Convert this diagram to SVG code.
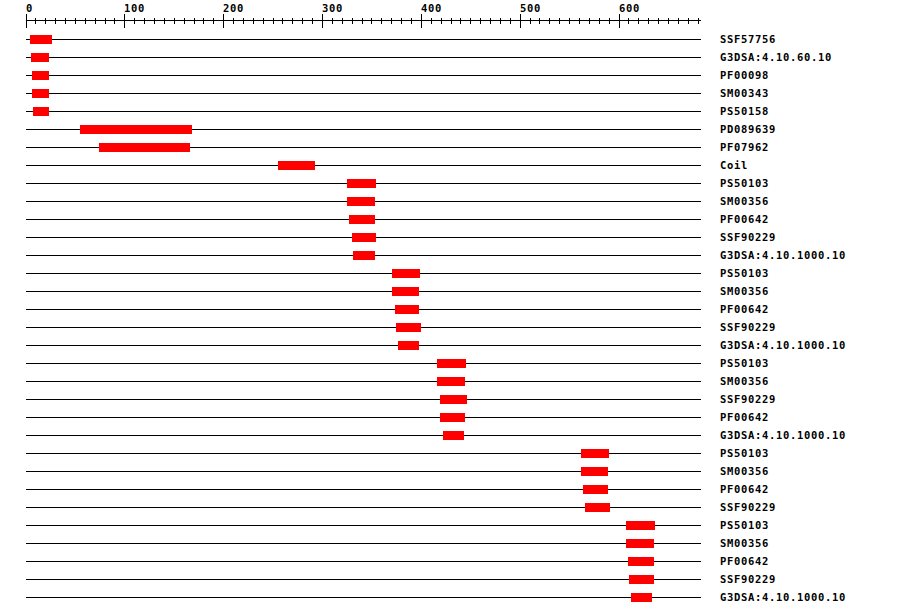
<svg xmlns="http://www.w3.org/2000/svg" width="900" height="616" viewBox="0 0 900 616">
<style>
text{font-family:"DejaVu Sans Mono","Liberation Mono",monospace;font-weight:bold;font-size:10.5px;letter-spacing:0.68px;fill:#000}
.tk{stroke:#000;stroke-width:1;fill:none;shape-rendering:crispEdges}
.ln{stroke:#000;stroke-width:1;shape-rendering:crispEdges}
.bar{fill:#FF0000;shape-rendering:crispEdges}
</style>
<rect width="900" height="616" fill="#fff"/>
<g id="axis">
<path class="tk" d="M26 20.5H701"/>
<path class="tk" d="M26.5 14V28M124.5 14V28M223.5 14V28M322.5 14V28M421.5 14V28M520.5 14V28M619.5 14V28"/>
<path class="tk" d="M35.5 18V24M45.5 18V24M55.5 18V24M65.5 18V24M75.5 18V24M85.5 18V24M95.5 18V24M105.5 18V24M114.5 18V24M134.5 18V24M144.5 18V24M154.5 18V24M164.5 18V24M174.5 18V24M184.5 18V24M194.5 18V24M203.5 18V24M213.5 18V24M233.5 18V24M243.5 18V24M253.5 18V24M263.5 18V24M273.5 18V24M282.5 18V24M292.5 18V24M302.5 18V24M312.5 18V24M332.5 18V24M342.5 18V24M352.5 18V24M362.5 18V24M371.5 18V24M381.5 18V24M391.5 18V24M401.5 18V24M411.5 18V24M431.5 18V24M441.5 18V24M451.5 18V24M460.5 18V24M470.5 18V24M480.5 18V24M490.5 18V24M500.5 18V24M510.5 18V24M530.5 18V24M539.5 18V24M549.5 18V24M559.5 18V24M569.5 18V24M579.5 18V24M589.5 18V24M599.5 18V24M609.5 18V24M628.5 18V24M638.5 18V24M648.5 18V24M658.5 18V24M668.5 18V24M678.5 18V24M688.5 18V24M698.5 18V24"/>
<text x="26" y="12">0</text>
<text x="124" y="12">100</text>
<text x="223" y="12">200</text>
<text x="322" y="12">300</text>
<text x="421" y="12">400</text>
<text x="520" y="12">500</text>
<text x="619" y="12">600</text>
</g>
<g id="connectors">
<path class="ln" d="M26 39.5H701M26 57.5H701M26 75.5H701M26 93.5H701M26 111.5H701M26 129.5H701M26 147.5H701M26 165.5H701M26 183.5H701M26 201.5H701M26 219.5H701M26 237.5H701M26 255.5H701M26 273.5H701M26 291.5H701M26 309.5H701M26 327.5H701M26 345.5H701M26 363.5H701M26 381.5H701M26 399.5H701M26 417.5H701M26 435.5H701M26 453.5H701M26 471.5H701M26 489.5H701M26 507.5H701M26 525.5H701M26 543.5H701M26 561.5H701M26 579.5H701M26 597.5H701"/>
</g>
<g id="r1"><rect class="bar" x="30" y="35" width="22" height="9"/><text x="720" y="43">SSF57756</text></g>
<g id="r2"><rect class="bar" x="31" y="53" width="18" height="9"/><text x="720" y="61">G3DSA:4.10.60.10</text></g>
<g id="r3"><rect class="bar" x="32" y="71" width="17" height="9"/><text x="720" y="79">PF00098</text></g>
<g id="r4"><rect class="bar" x="32" y="89" width="17" height="9"/><text x="720" y="97">SM00343</text></g>
<g id="r5"><rect class="bar" x="33" y="107" width="16" height="9"/><text x="720" y="115">PS50158</text></g>
<g id="r6"><rect class="bar" x="80" y="125" width="112" height="9"/><text x="720" y="133">PD089639</text></g>
<g id="r7"><rect class="bar" x="99" y="143" width="91" height="9"/><text x="720" y="151">PF07962</text></g>
<g id="r8"><rect class="bar" x="278" y="161" width="37" height="9"/><text x="720" y="169">Coil</text></g>
<g id="r9"><rect class="bar" x="347" y="179" width="29" height="9"/><text x="720" y="187">PS50103</text></g>
<g id="r10"><rect class="bar" x="347" y="197" width="28" height="9"/><text x="720" y="205">SM00356</text></g>
<g id="r11"><rect class="bar" x="349" y="215" width="26" height="9"/><text x="720" y="223">PF00642</text></g>
<g id="r12"><rect class="bar" x="352" y="233" width="24" height="9"/><text x="720" y="241">SSF90229</text></g>
<g id="r13"><rect class="bar" x="353" y="251" width="22" height="9"/><text x="720" y="259">G3DSA:4.10.1000.10</text></g>
<g id="r14"><rect class="bar" x="392" y="269" width="28" height="9"/><text x="720" y="277">PS50103</text></g>
<g id="r15"><rect class="bar" x="392" y="287" width="27" height="9"/><text x="720" y="295">SM00356</text></g>
<g id="r16"><rect class="bar" x="395" y="305" width="24" height="9"/><text x="720" y="313">PF00642</text></g>
<g id="r17"><rect class="bar" x="396" y="323" width="25" height="9"/><text x="720" y="331">SSF90229</text></g>
<g id="r18"><rect class="bar" x="398" y="341" width="21" height="9"/><text x="720" y="349">G3DSA:4.10.1000.10</text></g>
<g id="r19"><rect class="bar" x="437" y="359" width="29" height="9"/><text x="720" y="367">PS50103</text></g>
<g id="r20"><rect class="bar" x="437" y="377" width="28" height="9"/><text x="720" y="385">SM00356</text></g>
<g id="r21"><rect class="bar" x="440" y="395" width="27" height="9"/><text x="720" y="403">SSF90229</text></g>
<g id="r22"><rect class="bar" x="440" y="413" width="25" height="9"/><text x="720" y="421">PF00642</text></g>
<g id="r23"><rect class="bar" x="443" y="431" width="21" height="9"/><text x="720" y="439">G3DSA:4.10.1000.10</text></g>
<g id="r24"><rect class="bar" x="581" y="449" width="28" height="9"/><text x="720" y="457">PS50103</text></g>
<g id="r25"><rect class="bar" x="581" y="467" width="27" height="9"/><text x="720" y="475">SM00356</text></g>
<g id="r26"><rect class="bar" x="583" y="485" width="25" height="9"/><text x="720" y="493">PF00642</text></g>
<g id="r27"><rect class="bar" x="585" y="503" width="25" height="9"/><text x="720" y="511">SSF90229</text></g>
<g id="r28"><rect class="bar" x="626" y="521" width="29" height="9"/><text x="720" y="529">PS50103</text></g>
<g id="r29"><rect class="bar" x="626" y="539" width="28" height="9"/><text x="720" y="547">SM00356</text></g>
<g id="r30"><rect class="bar" x="628" y="557" width="26" height="9"/><text x="720" y="565">PF00642</text></g>
<g id="r31"><rect class="bar" x="629" y="575" width="25" height="9"/><text x="720" y="583">SSF90229</text></g>
<g id="r32"><rect class="bar" x="631" y="593" width="21" height="9"/><text x="720" y="601">G3DSA:4.10.1000.10</text></g>
</svg>
